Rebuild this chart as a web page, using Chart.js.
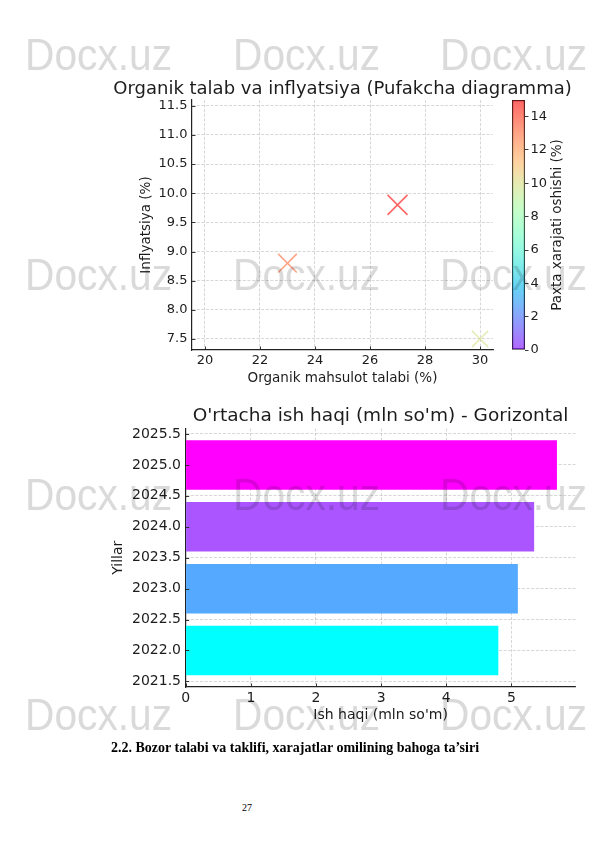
<!DOCTYPE html>
<html>
<head>
<meta charset="utf-8">
<script src="https://cdn.jsdelivr.net/npm/chart.js@4.4.1/dist/chart.umd.min.js"></script>
<style>
html,body{margin:0;padding:0;background:#fff;}
body{width:595px;height:842px;position:relative;overflow:hidden;}
canvas{position:absolute;}
#c1{left:100px;top:70px;}
#c2{left:500px;top:90px;}
#c3{left:100px;top:395px;}
.wm{position:absolute;font-family:"Liberation Sans",Arial,sans-serif;font-size:45px;line-height:1;color:#dadada;mix-blend-mode:multiply;transform-origin:0 0;transform:scaleX(0.905);white-space:nowrap;pointer-events:none;}
#caption{position:absolute;left:111px;top:741px;font-family:"Liberation Serif","Times New Roman",serif;font-weight:bold;font-size:14px;line-height:1;white-space:nowrap;color:#000;}
#pagenum{position:absolute;left:242px;top:803px;font-family:"Liberation Serif","Times New Roman",serif;font-size:10px;line-height:1;color:#000;}
</style>
</head>
<body>
<canvas id="c1" width="490" height="330"></canvas>
<canvas id="c2" width="90" height="270"></canvas>
<canvas id="c3" width="490" height="345"></canvas>
<div id="caption">2.2. Bozor talabi va taklifi, xarajatlar omilining bahoga ta’siri</div>
<div id="pagenum">27</div>
<script>
// ---------- data ----------
// Chart 1: scatter (bubble-like) chart
const demand = [23, 27, 30];            // Organik mahsulot talabi (%)
const inflation = [8.8, 9.8, 7.5];      // Inflyatsiya (%)
const cottonCost = [13, 15, 10];        // Paxta xarajati oshishi (%)
const scatterXTicks = [20, 22, 24, 26, 28, 30];
const scatterYTicks = [7.5, 8.0, 8.5, 9.0, 9.5, 10.0, 10.5, 11.0, 11.5];
const colorbarTicks = [0, 2, 4, 6, 8, 10, 12, 14];
const colorbarMin = 0, colorbarMax = 15;

// Chart 2: horizontal bar chart
const years = [2022, 2023, 2024, 2025];
const wages = [4.8, 5.1, 5.35, 5.7];    // mln so'm
const barXTicks = [0, 1, 2, 3, 4, 5];
const barYTicks = [2021.5, 2022.0, 2022.5, 2023.0, 2023.5, 2024.0, 2024.5, 2025.0, 2025.5];

// ---------- styling helpers ----------
const FONT = 'DejaVu Sans';
const TXT = '#1c1c1c';
const GRID = 'rgba(170,170,170,0.6)';
Chart.defaults.font.family = FONT;
Chart.defaults.color = TXT;
Chart.defaults.animation = false;

function rainbow(t) {
  const c = v => Math.max(0, Math.min(1, v));
  return [c(Math.abs(2 * t - 0.5)), c(Math.sin(Math.PI * t)), c(Math.cos(Math.PI * t / 2))]
    .map(v => Math.round(v * 255));
}
function rainbowRGBA(t, a) { const [r, g, b] = rainbow(t); return `rgba(${r},${g},${b},${a})`; }
function cool(t) { return `rgb(${Math.round(255 * t)},${Math.round(255 * (1 - t))},255)`; }

// draws titles / axis titles / inward ticks relative to the chart area
const decorPlugin = {
  id: 'decor',
  afterDraw(chart, args, o) {
    const {ctx, chartArea: a} = chart;
    ctx.save();
    ctx.fillStyle = TXT;
    ctx.textAlign = 'center';
    ctx.textBaseline = 'middle';
    const cx = (a.left + a.right) / 2, cy = (a.top + a.bottom) / 2;
    if (o.title) {
      ctx.font = `${o.titleSize}px "${FONT}"`;
      ctx.fillText(o.title, cx, a.top + o.titleDy);
    }
    if (o.xTitle) {
      ctx.font = `${o.labelSize}px "${FONT}"`;
      ctx.fillText(o.xTitle, cx, a.bottom + o.xTitleDy);
    }
    if (o.yTitle) {
      ctx.font = `${o.labelSize}px "${FONT}"`;
      ctx.translate(a.left + o.yTitleDx, cy);
      ctx.rotate(-Math.PI / 2);
      ctx.fillText(o.yTitle, 0, 0);
      ctx.setTransform(1, 0, 0, 1, 0, 0);
    }
    // inward tick marks
    if (o.inTicks) {
      ctx.strokeStyle = '#222';
      ctx.lineWidth = 0.9;
      const xs = chart.scales.x, ys = chart.scales.y;
      ctx.beginPath();
      xs.ticks.forEach(t => {
        const p = Math.round(xs.getPixelForValue(t.value)) + 0.5;
        ctx.moveTo(p, a.bottom); ctx.lineTo(p, a.bottom - 3.5);
      });
      ys.ticks.forEach(t => {
        const p = Math.round(ys.getPixelForValue(t.value)) + 0.5;
        ctx.moveTo(a.left, p); ctx.lineTo(a.left + 3.5, p);
      });
      ctx.stroke();
    }
    ctx.restore();
  }
};

function linScale(ticksArr, min, max, fmt, size, pad, fixedW, fixedH) {
  return {
    type: 'linear', min, max, offset: false,
    afterBuildTicks: s => { s.ticks = ticksArr.map(v => ({value: v})); },
    afterFit: s => { if (fixedW != null) s.width = fixedW; if (fixedH != null) s.height = fixedH; },
    ticks: {callback: fmt, font: {size}, color: TXT, padding: pad, maxRotation: 0, autoSkip: false},
    grid: {color: GRID, lineWidth: 0.8, drawTicks: false, offset: false},
    border: {display: true, color: '#222', width: 1.2, dash: [3, 1.6]}
  };
}

// ---------- Chart 1: scatter ----------
new Chart(document.getElementById('c1'), {
  type: 'scatter',
  data: {
    datasets: [{
      data: demand.map((d, i) => ({x: d, y: inflation[i]})),
      pointStyle: 'crossRot',
      pointRadius: ctx => 3.65 * Math.sqrt(cottonCost[ctx.dataIndex]),
      pointHoverRadius: ctx => 3.65 * Math.sqrt(cottonCost[ctx.dataIndex]),
      pointBorderWidth: 1.6,
      borderColor: ctx => rainbowRGBA((cottonCost[ctx.dataIndex] - colorbarMin) / (colorbarMax - colorbarMin), 0.6),
      backgroundColor: 'transparent'
    }]
  },
  options: {
    responsive: false,
    layout: {padding: {left: 0, right: 97, top: 30, bottom: 0}},
    plugins: {
      legend: {display: false}, tooltip: {enabled: false},
      decor: {
        title: 'Organik talab va inflyatsiya (Pufakcha diagramma)', titleSize: 18, titleDy: -11,
        xTitle: 'Organik mahsulot talabi (%)', xTitleDy: 28,
        yTitle: 'Inflyatsiya (%)', yTitleDx: -46,
        labelSize: 13.5, inTicks: true
      }
    },
    scales: {
      x: linScale(scatterXTicks, 19.53, 30.47, v => String(v), 13, 3, null, 50),
      y: linScale(scatterYTicks, 7.31, 11.6, v => v.toFixed(1), 13, 4.5, 92, null)
    }
  },
  plugins: [decorPlugin]
});

// ---------- Colorbar ----------
const cbLabelPlugin = {
  id: 'cbLabel',
  afterDraw(chart) {
    const {ctx, chartArea: a} = chart;
    ctx.save();
    ctx.fillStyle = TXT;
    ctx.font = `13.5px "${FONT}"`;
    ctx.textAlign = 'center';
    ctx.textBaseline = 'middle';
    ctx.translate(a.right + 32, (a.top + a.bottom) / 2);
    ctx.rotate(-Math.PI / 2);
    ctx.fillText('Paxta xarajati oshishi (%)', 0, 0);
    ctx.restore();
  }
};
new Chart(document.getElementById('c2'), {
  type: 'bar',
  data: {
    labels: [''],
    datasets: [{
      data: [colorbarMax],
      barPercentage: 1, categoryPercentage: 1,
      borderWidth: 0.9, borderColor: '#222', borderSkipped: false,
      backgroundColor: ctx => {
        const ch = ctx.chart, a = ch.chartArea;
        if (!a) return 'transparent';
        const g = ch.ctx.createLinearGradient(0, a.bottom, 0, a.top);
        for (let i = 0; i <= 20; i++) g.addColorStop(i / 20, rainbowRGBA(i / 20, 0.6));
        return g;
      }
    }]
  },
  options: {
    responsive: false,
    layout: {padding: {left: 12, right: 0, top: 10, bottom: 10}},
    plugins: {legend: {display: false}, tooltip: {enabled: false}},
    scales: {
      x: {display: false},
      y: {
        type: 'linear', position: 'right', min: colorbarMin, max: colorbarMax,
        afterBuildTicks: s => { s.ticks = colorbarTicks.map(v => ({value: v})); },
        afterFit: s => { s.width = 65; },
        ticks: {font: {size: 13}, color: TXT, padding: 2},
        grid: {drawOnChartArea: false, drawTicks: true, tickLength: 3.5, tickColor: '#222', tickWidth: 0.9},
        border: {display: false}
      }
    }
  },
  plugins: [cbLabelPlugin]
});

// ---------- Chart 2: horizontal bars ----------
new Chart(document.getElementById('c3'), {
  type: 'bar',
  data: {
    datasets: [{
      data: years.map((y, i) => ({x: wages[i], y})),
      backgroundColor: years.map((y, i) => cool(i / (years.length - 1))),
      borderWidth: 0,
      categoryPercentage: 1,
      barPercentage: 1.6   // ruler spacing is the 0.5 tick step -> bar height 0.8 year
    }]
  },
  options: {
    indexAxis: 'y',
    responsive: false,
    layout: {padding: {left: 0, right: 14.5, top: 33.4, bottom: 0}},
    plugins: {
      legend: {display: false}, tooltip: {enabled: false},
      decor: {
        title: "O'rtacha ish haqi (mln so'm) - Gorizontal", titleSize: 18.5, titleDy: -12.4,
        xTitle: "Ish haqi (mln so'm)", xTitleDy: 28,
        yTitle: 'Yillar', yTitleDx: -67,
        labelSize: 14, inTicks: true
      }
    },
    scales: {
      x: linScale(barXTicks, 0, 5.985, v => String(v), 14, 3, null, 53),
      y: linScale(barYTicks, 2021.41, 2025.59, v => v.toFixed(1), 14, 4.7, 85.7, null)
    }
  },
  plugins: [decorPlugin]
});

// ---------- watermark ----------
const wmRows = [32, 252, 472, 692];
const wmCols = [25, 233, 440];
wmRows.forEach(t => wmCols.forEach(l => {
  const d = document.createElement('div');
  d.className = 'wm';
  d.textContent = 'Docx.uz';
  d.style.left = l + 'px';
  d.style.top = t + 'px';
  document.body.appendChild(d);
}));
</script>
</body>
</html>
